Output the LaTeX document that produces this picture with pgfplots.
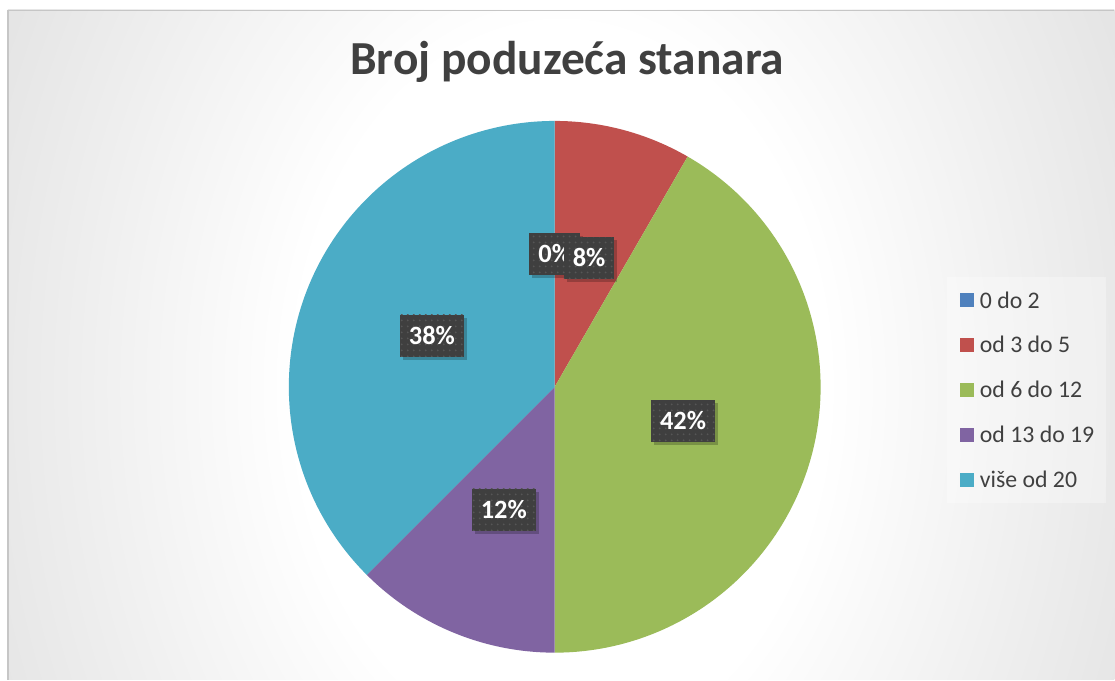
\documentclass[border=0pt]{standalone}
\usepackage{pgfplots}
\pgfplotsset{compat=1.18}
\usepackage{pgfplotstable}
\usepackage{fontspec}
\setmainfont{Carlito}
\usetikzlibrary{shadows,patterns}

\definecolor{c0}{HTML}{4F81BD}
\definecolor{c1}{HTML}{C0504D}
\definecolor{c2}{HTML}{9BBB59}
\definecolor{c3}{HTML}{8064A2}
\definecolor{c4}{HTML}{4BACC6}
\definecolor{txt}{HTML}{404040}
\definecolor{lblbg}{HTML}{3F3F3F}
\definecolor{bgmid}{HTML}{EEEEEE}
\definecolor{bgedge}{HTML}{C9C9C9}
\definecolor{bgcorner}{HTML}{C0C0C0}

\pgfdeclareradialshading{chartbg}{\pgfpoint{0bp}{0bp}}{%
  color(0bp)=(white); color(12bp)=(white); color(22bp)=(bgmid); color(45bp)=(bgedge); color(60bp)=(bgcorner); color(100bp)=(bgcorner)}

% value = count; pct = data label shown
\pgfplotstableread[col sep=comma]{
label,value,pct
0 do 2,0,0
od 3 do 5,2,8
od 6 do 12,10,42
od 13 do 19,3,12
više od 20,9,38
}\piedata

\tikzset{
  lbl/.style={fill=lblbg, text=white, font=\fontsize{13.2}{15}\selectfont\bfseries,
    inner xsep=4.5pt, inner ysep=0pt, minimum height=21pt, text height=8.6pt, text depth=0pt,
    drop shadow={shadow xshift=1.5pt, shadow yshift=-1.5pt, opacity=0.22, fill=black},
    postaction={pattern=dots, pattern color=white!12!lblbg}},
}

\begin{document}
\begin{tikzpicture}
\begin{axis}[
  width=557.5pt, height=340pt, scale only axis,
  xmin=0, xmax=1115, ymin=0, ymax=680, y dir=reverse,
  hide axis, clip=false,
]
% background
\fill[white] (axis cs:0,0) rectangle (axis cs:1115,680);
\begin{scope}
\clip (axis cs:8,10) rectangle (axis cs:1115,680);
\shade[shading=chartbg] (axis cs:8,-363) rectangle (axis cs:1115,1137);
\end{scope}
\draw[gray!45, line width=0.6pt] (axis cs:8,680) -- (axis cs:8,10.3) -- (axis cs:1115,10.3);

% title
\node[anchor=base, text=txt, font=\fontsize{23.7}{28}\selectfont\bfseries] at (axis cs:567.5,75) {Broj poduzeća stanara};

% pie slices
\pgfmathsetmacro\total{0}
\pgfplotsforeachungrouped \i in {0,...,4}{%
  \pgfplotstablegetelem{\i}{value}\of\piedata
  \pgfmathsetmacro\total{\total+\pgfplotsretval}%
}
\pgfmathsetmacro\cum{0}
\pgfplotsforeachungrouped \i in {0,...,4}{%
  \pgfplotstablegetelem{\i}{value}\of\piedata
  \pgfmathsetmacro\v{\pgfplotsretval}%
  \pgfmathsetmacro\a{90-360*\cum/\total}%
  \pgfmathsetmacro\b{90-360*(\cum+\v)/\total}%
  \edef\cmd{\noexpand\fill[c\i] (axis cs:555,387) -- ++(\a:133pt) arc[start angle=\a, end angle=\b, radius=133pt] -- cycle;}%
  \cmd
  \pgfmathsetmacro\cum{\cum+\v}%
}

% legend
\fill[white, opacity=0.3] (axis cs:948,277) rectangle (axis cs:1107,503);
\pgfplotsforeachungrouped \i in {0,...,4}{%
  \pgfplotstablegetelem{\i}{label}\of\piedata
  \let\lab\pgfplotsretval
  \pgfmathsetmacro\ly{300+45*\i}%
  \edef\cmd{\noexpand\fill[c\i] (axis cs:961,\ly-7) rectangle (axis cs:975,\ly+7);
    \noexpand\node[anchor=west, inner sep=0pt, text=txt, font=\noexpand\fontsize{11.9}{14}\noexpand\selectfont] at (axis cs:980,\ly) {\lab};}%
  \cmd
}

% data labels
\pgfmathsetmacro\cum{0}
\pgfplotsforeachungrouped \i in {0,...,4}{%
  \pgfplotstablegetelem{\i}{value}\of\piedata
  \pgfmathsetmacro\v{\pgfplotsretval}%
  \pgfplotstablegetelem{\i}{pct}\of\piedata
  \let\p\pgfplotsretval
  \pgfmathsetmacro\m{90-360*(\cum+\v/2)/\total}%
  \pgfmathsetmacro\lx{555+133*cos(\m)}%
  \pgfmathsetmacro\lyy{387-133*sin(\m)}%
  \edef\cmd{\noexpand\node[lbl] at (axis cs:\lx,\lyy) {\p\noexpand\%};}%
  \cmd
  \pgfmathsetmacro\cum{\cum+\v}%
}
\end{axis}
\end{tikzpicture}
\end{document}
